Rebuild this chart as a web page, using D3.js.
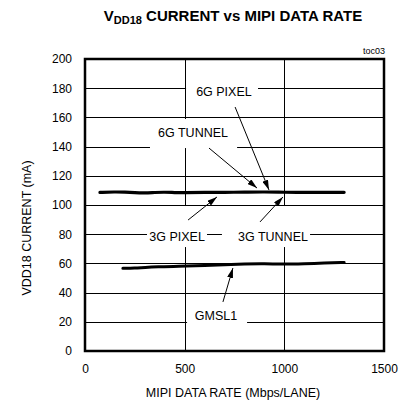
<!DOCTYPE html>
<html>
<head>
<meta charset="utf-8">
<script src="https://cdn.jsdelivr.net/npm/d3@7"></script>
<style>
  body { margin: 0; background: #fff; }
  text { font-family: "Liberation Sans", Arial, sans-serif; }
</style>
</head>
<body>
<script>
// data
const xTicks = [0, 500, 1000, 1500];
const yTicks = [0, 20, 40, 60, 80, 100, 120, 140, 160, 180, 200];

const rate6g3g = [75, 150, 200, 250, 300, 350, 400, 450, 500, 600, 700, 800, 900, 1000, 1100, 1200, 1300];
const current6g3g = [108.6, 109, 108.8, 108.4, 108.2, 108.6, 108.8, 108.5, 108.4, 108.6, 108.7, 108.8, 109, 108.7, 108.6, 108.7, 108.7];

const rateGmsl = [190, 250, 300, 365, 450, 500, 600, 700, 800, 900, 1000, 1100, 1200, 1300];
const currentGmsl = [56.6, 56.7, 57.3, 57.7, 57.9, 58.2, 58.6, 59.1, 59.6, 59.8, 59.4, 59.8, 60.2, 60.6];

// callouts: label, text anchor point, white box, arrow (all in data units)
const callouts = [
  {label: "6G PIXEL",  tx: 697, ty: 174.7, box: [507, 868, 188.4, 171.9], from: [753, 167.1], to: [923, 110.3]},
  {label: "6G TUNNEL", tx: 542, ty: 146.6, box: [326, 763, 158.9, 139],   from: [622, 139],   to: [863, 111.6]},
  {label: "3G PIXEL",  tx: 462, ty: 75.3,  box: [311, 612, 99.3, 71.2],   from: [517, 89.7],  to: [662, 105.5]},
  {label: "3G TUNNEL", tx: 943, ty: 75.3,  box: [687, 1129, 99.3, 71.2],  from: [878, 88.4],  to: [993, 105.5]},
  {label: "GMSL1",     tx: 657, ty: 21.2,  box: [512, 813, 34.9, 7.5],    from: [692, 33.6],  to: [742, 56.8]}
];

const margin = {top: 59, right: 22, bottom: 55, left: 85};
const width = 406, height = 406;

const svg = d3.select("body").append("svg")
    .attr("width", width)
    .attr("height", height);

const x = d3.scaleLinear().domain([0, 1500]).range([margin.left, width - margin.right]);
const y = d3.scaleLinear().domain([0, 200]).range([height - margin.bottom, margin.top]);

// title
const title = svg.append("text")
    .attr("x", 233).attr("y", 21)
    .attr("text-anchor", "middle")
    .style("font-size", "15px").style("font-weight", "bold");
title.append("tspan").text("V");
title.append("tspan").text("DD18").attr("dy", 3).style("font-size", "11px");
title.append("tspan").text(" CURRENT vs MIPI DATA RATE").attr("dy", -3);

svg.append("text")
    .attr("x", 385).attr("y", 54)
    .attr("text-anchor", "end")
    .style("font-size", "9px")
    .text("toc03");

// grid
svg.append("g").selectAll("line")
    .data(yTicks.slice(1, -1))
    .join("line")
    .attr("x1", x(0)).attr("x2", x(1500))
    .attr("y1", d => Math.round(y(d)) + 0.5).attr("y2", d => Math.round(y(d)) + 0.5)
    .attr("stroke", "#000").attr("stroke-width", 1);

svg.append("g").selectAll("line")
    .data(xTicks.slice(1, -1))
    .join("line")
    .attr("x1", d => Math.round(x(d)) + 0.5).attr("x2", d => Math.round(x(d)) + 0.5)
    .attr("y1", y(0)).attr("y2", y(200))
    .attr("stroke", "#000").attr("stroke-width", 1);

// white boxes behind the callout labels
svg.append("g").selectAll("rect")
    .data(callouts)
    .join("rect")
    .attr("x", d => x(d.box[0]))
    .attr("y", d => y(d.box[2]))
    .attr("width", d => x(d.box[1]) - x(d.box[0]))
    .attr("height", d => y(d.box[3]) - y(d.box[2]))
    .attr("fill", "#fff");

// frame
svg.append("rect")
    .attr("x", x(0)).attr("y", y(200))
    .attr("width", x(1500) - x(0)).attr("height", y(0) - y(200))
    .attr("fill", "none").attr("stroke", "#000").attr("stroke-width", 2.5);

// axes labels
const yAxis = d3.axisLeft(y).tickValues(yTicks).tickSize(0).tickPadding(13).tickFormat(d3.format("d"));
svg.append("g")
    .attr("transform", `translate(${x(0)},0)`)
    .call(yAxis)
    .call(g => g.select(".domain").remove())
    .call(g => g.selectAll("text").style("font-size", "12px").style("font-family", "Liberation Sans, Arial, sans-serif").attr("fill", "#000"));

const xAxis = d3.axisBottom(x).tickValues(xTicks).tickSize(0).tickPadding(13).tickFormat(d3.format("d"));
svg.append("g")
    .attr("transform", `translate(0,${y(0)})`)
    .call(xAxis)
    .call(g => g.select(".domain").remove())
    .call(g => g.selectAll("text").style("font-size", "12px").style("font-family", "Liberation Sans, Arial, sans-serif").attr("fill", "#000"));

svg.append("text")
    .attr("x", 233).attr("y", 397)
    .attr("text-anchor", "middle")
    .style("font-size", "12.5px")
    .text("MIPI DATA RATE (Mbps/LANE)");

svg.append("text")
    .attr("transform", "translate(31,228) rotate(-90)")
    .attr("text-anchor", "middle")
    .style("font-size", "12.5px")
    .text("VDD18 CURRENT (mA)");

// data lines
const line = d3.line().x(d => x(d[0])).y(d => y(d[1])).curve(d3.curveBasis);

svg.append("path")
    .datum(d3.zip(rate6g3g, current6g3g))
    .attr("d", line)
    .attr("fill", "none").attr("stroke", "#000").attr("stroke-width", 3.2)
    .attr("stroke-linecap", "round");

svg.append("path")
    .datum(d3.zip(rateGmsl, currentGmsl))
    .attr("d", line)
    .attr("fill", "none").attr("stroke", "#000").attr("stroke-width", 3)
    .attr("stroke-linecap", "round");

// callout labels and arrows
svg.append("defs").append("marker")
    .attr("id", "arrow")
    .attr("viewBox", "0 0 10 6")
    .attr("refX", 10).attr("refY", 3)
    .attr("markerWidth", 10).attr("markerHeight", 6)
    .attr("markerUnits", "userSpaceOnUse")
    .attr("orient", "auto")
    .append("path")
    .attr("d", "M0,0 L10,3 L0,6 Z")
    .attr("fill", "#000");

svg.append("g").selectAll("line")
    .data(callouts)
    .join("line")
    .attr("x1", d => x(d.from[0])).attr("y1", d => y(d.from[1]))
    .attr("x2", d => x(d.to[0])).attr("y2", d => y(d.to[1]))
    .attr("stroke", "#000").attr("stroke-width", 1)
    .attr("marker-end", "url(#arrow)");

svg.append("g").selectAll("text")
    .data(callouts)
    .join("text")
    .attr("x", d => x(d.tx)).attr("y", d => y(d.ty))
    .attr("text-anchor", "middle")
    .style("font-size", "12.5px")
    .text(d => d.label);
</script>
</body>
</html>
